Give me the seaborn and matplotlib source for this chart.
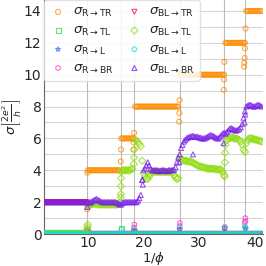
import numpy as np
import pandas as pd
import matplotlib
matplotlib.use("Agg")
import matplotlib.pyplot as plt
import seaborn as sns

# ---- data: 1/phi sampling (0.25 steps from 2 to 41.25) ----
inv_phi = np.arange(2.0, 41.3, 0.25)  # 158 samples

# segments: A 2-9.75 (32) | B 10-15.75 (24) | C 16-18.25 (10) | D 18.5-26.25 (32)
#           E 26.5-34.5 (33) | F 34.75-38.25 (15) | G 38.5-41.25 (12)
R_TR = [2.0]*32 + [4.0]*24 + [6.0]*10 + [8.0]*32 + [10.0]*33 + [12.0]*15 + [14.0]*12
R_TL = [0.08]*32 + [0.0]*126
R_L = [0.0]*158
R_BR = [0.0]*158
BL_TR = [2.0]*32 + [0.0]*126
BL_TL = ([0.0]*32
         + [1.75, 1.8, 1.85, 1.85, 1.9, 1.9, 1.9, 1.85, 1.85, 1.85, 1.85, 1.85,
            1.85, 1.85, 1.85, 1.85, 1.85, 1.85, 1.85, 1.85, 1.85, 1.85, 1.9, 2.0]
         + [3.9, 4.0, 4.0, 4.0, 4.0, 4.0, 4.0, 4.05, 4.1, 4.4]
         + [5.9, 5.85, 5.75, 5.65, 5.5, 4.6, 3.8, 3.6, 3.5, 3.45, 3.6, 3.8, 3.9, 3.9,
            3.9, 3.9, 3.9, 3.9, 3.9, 3.9, 3.9, 3.9, 3.9, 3.9, 3.9, 3.9, 3.9, 3.85,
            3.7, 3.55, 3.45, 3.5]
         + [4.8, 4.7, 4.65, 4.6, 4.6, 4.6, 4.55, 4.55, 4.55, 4.5, 4.45, 4.4, 4.35,
            4.3, 4.25, 4.25, 4.2, 4.2, 4.15, 4.15, 4.1, 4.1, 4.1, 4.1, 4.1, 4.1,
            4.05, 4.05, 4.05, 4.05, 4.05, 3.9, 3.7]
         + [5.6, 5.9, 6.0, 6.0, 6.05, 6.05, 6.0, 6.0, 6.0, 5.95, 5.9, 5.8, 5.6, 5.3, 5.15]
         + [5.7, 5.9, 6.0, 6.0, 6.0, 5.95, 5.95, 5.9, 5.9, 5.85, 5.85, 5.8])
BL_L = [0.0]*158
BL_BR = ([2.0]*32
         + [2.0, 1.95, 2.0, 2.05, 2.1, 2.15, 2.2, 2.15, 2.1, 2.05, 2.0, 2.0,
            2.0, 2.0, 2.0, 2.0, 2.0, 2.0, 2.0, 2.0, 2.0, 1.95, 1.9, 1.85]
         + [1.85, 1.95, 2.0, 2.0, 2.0, 2.0, 2.0, 2.0, 2.0, 2.0]
         + [2.0, 2.0, 2.1, 2.25, 2.45, 3.4, 4.0, 4.1, 4.3, 4.5, 4.3, 4.1, 4.0, 4.0,
            4.0, 4.0, 4.0, 3.95, 3.95, 4.0, 4.0, 4.0, 3.95, 3.95, 4.0, 4.0, 4.0, 4.0,
            4.05, 4.2, 4.5, 4.8]
         + [5.0, 5.4, 5.6, 5.8, 5.9, 6.0, 6.05, 6.1, 6.1, 6.15, 6.15, 6.1, 6.1,
            6.1, 6.05, 6.05, 6.0, 6.0, 6.0, 6.05, 6.1, 6.15, 6.2, 6.2, 6.15, 6.1,
            6.05, 6.0, 6.0, 6.1, 6.2, 6.3, 6.35]
         + [6.3, 6.4, 6.5, 6.6, 6.65, 6.6, 6.55, 6.5, 6.5, 6.55, 6.6, 6.7, 6.9, 7.3, 7.7]
         + [8.0, 8.05, 8.1, 8.1, 8.05, 8.0, 8.0, 8.05, 8.1, 8.1, 8.05, 8.0])

# extra points sampled across the transitions
R_TR_tx = [9.85, 9.9, 15.9, 15.95, 18.2, 18.25, 18.3, 26.4, 26.45, 26.5,
           34.45, 34.5, 34.55, 38.1, 38.15, 38.2, 38.25, 38.35]
R_TR_ty = [1.55, 3.85, 4.55, 5.3, 5.3, 5.75, 6.35, 7.05, 7.6, 8.4,
           9.05, 9.7, 10.8, 10.5, 10.75, 11.05, 11.65, 12.9]
R_TL_tx = [9.9, 15.95, 18.3]
R_TL_ty = [0.2, 0.35, 0.15]
R_L_tx = [18.3, 26.5, 34.6, 38.3]
R_L_ty = [0.2, 0.3, 0.25, 0.4]
R_BR_tx = [9.9, 18.3, 18.35, 26.5, 26.55, 34.6, 38.2, 38.3, 38.35]
R_BR_ty = [0.3, 0.4, 0.6, 0.5, 0.7, 0.4, 0.7, 1.0, 0.8]
BL_TR_tx = [9.9, 18.3, 26.5, 34.6, 38.3]
BL_TR_ty = [0.1, 0.15, 0.2, 0.3, 0.25]
BL_TL_tx = [9.85, 9.9, 9.95, 15.9, 15.92, 15.95, 15.97, 18.3, 18.35, 34.6, 34.65, 34.7]
BL_TL_ty = [0.3, 0.45, 0.6, 2.3, 2.5, 3.0, 3.5, 4.8, 5.3, 3.6, 4.5, 5.1]
BL_L_tx = [16.0, 18.3, 26.5, 34.6, 38.25, 38.4]
BL_L_ty = [0.3, 0.3, 0.4, 0.45, 0.5, 0.35]
BL_BR_tx = [9.9, 19.8, 19.85, 26.4, 28.9, 34.4, 38.2, 38.3]
BL_BR_ty = [1.7, 3.4, 3.1, 4.5, 5.0, 5.7, 7.0, 7.5]

transitions = [9.87, 15.95, 18.34, 26.5, 34.56, 38.3]

series_names = ["R_TR", "R_TL", "R_L", "R_BR", "BL_TR", "BL_TL", "BL_L", "BL_BR"]
labels = [r"$\sigma_{\mathrm{R\rightarrow TR}}$", r"$\sigma_{\mathrm{R\rightarrow TL}}$",
          r"$\sigma_{\mathrm{R\rightarrow L}}$", r"$\sigma_{\mathrm{R\rightarrow BR}}$",
          r"$\sigma_{\mathrm{BL\rightarrow TR}}$", r"$\sigma_{\mathrm{BL\rightarrow TL}}$",
          r"$\sigma_{\mathrm{BL\rightarrow L}}$", r"$\sigma_{\mathrm{BL\rightarrow BR}}$"]
main_vals = [R_TR, R_TL, R_L, R_BR, BL_TR, BL_TL, BL_L, BL_BR]
extra_x = [R_TR_tx, R_TL_tx, R_L_tx, R_BR_tx, BL_TR_tx, BL_TL_tx, BL_L_tx, BL_BR_tx]
extra_y = [R_TR_ty, R_TL_ty, R_L_ty, R_BR_ty, BL_TR_ty, BL_TL_ty, BL_L_ty, BL_BR_ty]

colors = ["#ff8c00", "#33dd33", "#3366ee", "#ff33cc", "#e8174a", "#8fdd10", "#11dddd", "#7a1fe8"]
markers = ["o", "s", "*", "h", "v", "D", "H", "^"]

frames = []
for name, v, ex, ey in zip(series_names, main_vals, extra_x, extra_y):
    frames.append(pd.DataFrame({"x": np.concatenate([inv_phi, ex]),
                                "y": np.concatenate([v, ey]), "series": name}))
df = pd.concat(frames, ignore_index=True)

sns.set_style("whitegrid")
plt.rcParams["font.family"] = ["DejaVu Sans"]
plt.rcParams["mathtext.fontset"] = "dejavusans"

fig = plt.figure(figsize=(2.66, 2.66), dpi=100)
ax = fig.add_axes([43.5/266, 32/266, (263-43.5)/266, 234/266])

for name, lab, c, m in zip(series_names, labels, colors, markers):
    sub = df[df["series"] == name]
    sns.scatterplot(data=sub, x="x", y="y", ax=ax, marker=m, color=c,
                    facecolor="none", edgecolor=c, s=13, linewidth=0.8,
                    alpha=0.75, label=lab, legend=False, zorder=3)

for t in transitions:
    ax.axvline(t, color="#bbbbbb", lw=0.8, zorder=1)

ax.set_xlim(2.0, 41.5)
ax.set_ylim(0, 14.69)
ax.set_xticks([10, 20, 30, 40])
ax.set_yticks([0, 2, 4, 6, 8, 10, 12, 14])
ax.set_yticks(np.arange(1, 15, 2), minor=True)
ax.grid(False, axis="x")
ax.grid(True, axis="y", which="both", color="#d5d5d5", lw=0.8)
ax.tick_params(axis="both", which="both", length=0, labelsize=10, pad=1.5)
for side in ["top", "right"]:
    ax.spines[side].set_visible(False)
for side in ["left", "bottom"]:
    ax.spines[side].set_color("#666666")
    ax.spines[side].set_linewidth(0.8)

ax.set_xlabel(r"$1/\phi$", fontsize=9.5)
ax.xaxis.set_label_coords(0.5, -0.07)
ax.set_ylabel(r"$\sigma\left[\frac{2e^2}{h}\right]$", fontsize=9.5)
ax.yaxis.set_label_coords(-0.095, 0.5)

leg = ax.legend(loc="upper left", ncol=2, fontsize=9.5, frameon=True, framealpha=0.85,
                borderaxespad=0.0, handletextpad=0.4, columnspacing=0.9,
                handlelength=1.4, labelspacing=0.35, borderpad=0.4, markerscale=1.0)
leg.get_frame().set_edgecolor("#dddddd")

fig.savefig("out.png", dpi=100)
